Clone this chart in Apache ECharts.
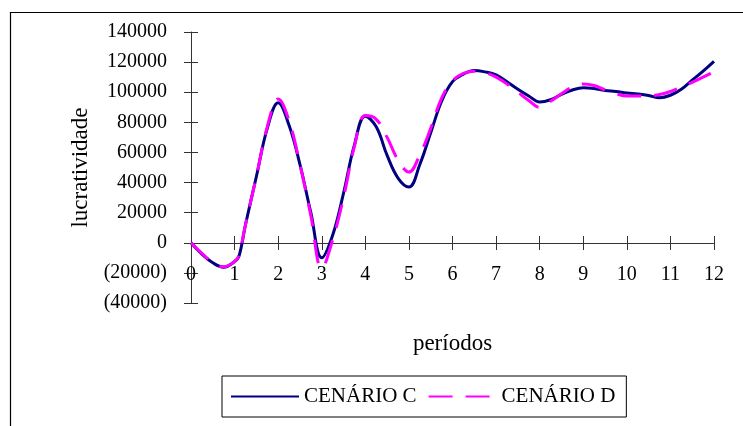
<!DOCTYPE html>
<html>
<head>
<meta charset="utf-8">
<script src="https://cdn.jsdelivr.net/npm/echarts@6/dist/echarts.min.js"></script>
<style>
  html, body { margin: 0; padding: 0; background: #fff; }
  #chart { width: 743px; height: 426px; }
</style>
</head>
<body>
<div id="chart"></div>
<script>
// Periods (x) sampled along the curves
const periods = [0, 0.25, 0.5, 0.75, 1, 1.1, 1.25, 1.5, 1.75, 2, 2.25, 2.5, 2.75, 3,
  3.25, 3.5, 3.75, 4, 4.25, 4.5, 4.75, 5, 5.25, 5.5, 5.75, 6, 6.25, 6.5, 6.75, 7,
  7.25, 7.5, 7.75, 8, 8.25, 8.5, 8.75, 9, 9.25, 9.5, 9.75, 10, 10.25, 10.5, 10.75,
  11, 11.25, 11.5, 11.75, 12];

// Lucratividade - cenário C
const cenarioC = [0, -7500, -13300, -16200, -12500, -9000, 12000, 44000, 76000, 93000,
  78000, 52000, 20000, -10000, 5000, 33000, 65000, 84000, 77000, 58000, 43000, 37000,
  52000, 73000, 94000, 107000, 112000, 114500, 113500, 111500, 107000, 102000, 97500,
  93500, 95000, 98500, 101500, 103000, 102500, 101200, 100500, 99500, 98800, 97800,
  96300, 98000, 102000, 108000, 114000, 120500];

// Lucratividade - cenário D
const cenarioD = [0, -7000, -13000, -16000, -12500, -8000, 12000, 44000, 77000, 95500,
  81000, 52000, 18000, -17000, 2000, 30000, 64000, 84500, 82000, 70000, 55000, 47000,
  58500, 76000, 96000, 107500, 112500, 114000, 113000, 110000, 105500, 100000, 94500,
  90000, 94000, 99000, 103500, 105500, 104500, 101500, 99000, 97500, 97500, 97500,
  98500, 100500, 103500, 106500, 110000, 113500];

const seriesNames = ['CENÁRIO C', 'CENÁRIO D'];

const FONT = '"Liberation Serif", "Times New Roman", serif';
const AXIS_COLOR = '#333';
const GRID_BOX = { left: 191, right: 29, top: 32, bottom: 123 };
// the period axis sits on the zero line: 40000 of 180000 above the grid bottom (271 px tall)
const ZERO_OFFSET = -Math.round(271 * 40000 / 180000);

const pairs = (ys) => periods.map((x, i) => [x, ys[i]]);
const yFmt = (v) => (v < 0 ? '(' + Math.abs(v) + ')' : String(v));

const xRange = { type: 'value', min: 0, max: 12, interval: 1, splitLine: { show: false } };
const yRange = { type: 'value', min: -40000, max: 140000, interval: 20000, splitLine: { show: false } };
const hidden = { show: false };
const nameFont = { fontFamily: FONT, fontSize: 23, color: '#000' };
const tickFont = { fontFamily: FONT, fontSize: 20, color: '#000' };

const chart = echarts.init(document.getElementById('chart'), null, { renderer: 'canvas' });

chart.setOption({
  backgroundColor: '#fff',
  animation: false,
  textStyle: { fontFamily: FONT, color: '#000' },
  graphic: [{
    type: 'rect',
    shape: { x: 10.5, y: 12.5, width: 800, height: 500 },
    style: { fill: 'none', stroke: '#000', lineWidth: 1.2 },
    silent: true
  }],
  // grid 0: data; grid 1: axis lines, labels, names, outward ticks; grid 2: inward ticks
  grid: [Object.assign({}, GRID_BOX), Object.assign({}, GRID_BOX), Object.assign({}, GRID_BOX)],
  legend: {
    data: seriesNames,
    left: 222,
    top: 376,
    orient: 'horizontal',
    padding: [10, 11, 10, 8],
    itemGap: 11,
    itemWidth: 68,
    itemHeight: 14,
    itemStyle: { opacity: 0 },
    borderColor: '#000',
    borderWidth: 1,
    textStyle: { fontFamily: FONT, fontSize: 21, color: '#000' }
  },
  xAxis: [Object.assign({}, xRange, {
    gridIndex: 0, show: false
  }), Object.assign({}, xRange, {
    gridIndex: 1,
    position: 'bottom',
    offset: ZERO_OFFSET,
    name: 'períodos',
    nameLocation: 'middle',
    nameGap: 89,
    nameTextStyle: nameFont,
    axisLine: { show: true, onZero: false, lineStyle: { color: AXIS_COLOR, width: 1 } },
    axisTick: { show: true, length: 7, lineStyle: { color: AXIS_COLOR } },
    axisLabel: Object.assign({ margin: 22 }, tickFont)
  }), Object.assign({}, xRange, {
    gridIndex: 2,
    position: 'bottom',
    offset: ZERO_OFFSET,
    axisLine: { show: false, onZero: false },
    axisTick: { show: true, inside: true, length: 7, lineStyle: { color: AXIS_COLOR } },
    axisLabel: hidden
  })],
  yAxis: [Object.assign({}, yRange, {
    gridIndex: 0, show: false
  }), Object.assign({}, yRange, {
    gridIndex: 1,
    position: 'left',
    name: 'lucratividade',
    nameLocation: 'middle',
    nameGap: 99,
    nameTextStyle: nameFont,
    axisLine: { show: true, onZero: false, lineStyle: { color: AXIS_COLOR, width: 1 } },
    axisTick: { show: true, length: 7, lineStyle: { color: AXIS_COLOR } },
    axisLabel: Object.assign({ margin: 24, formatter: yFmt }, tickFont)
  }), Object.assign({}, yRange, {
    gridIndex: 2,
    position: 'left',
    axisLine: { show: false, onZero: false },
    axisTick: { show: true, inside: true, length: 7, lineStyle: { color: AXIS_COLOR } },
    axisLabel: hidden
  })],
  series: [{
    name: seriesNames[0],
    type: 'line',
    xAxisIndex: 0,
    yAxisIndex: 0,
    data: pairs(cenarioC),
    smooth: 0.4,
    symbol: 'none',
    lineStyle: { color: '#000080', width: 3 },
    itemStyle: { color: '#000080' },
    z: 2
  }, {
    name: seriesNames[1],
    type: 'line',
    xAxisIndex: 0,
    yAxisIndex: 0,
    data: pairs(cenarioD),
    smooth: 0.4,
    symbol: 'none',
    lineStyle: { color: '#ff00ff', width: 3, type: [24, 13] },
    itemStyle: { color: '#ff00ff' },
    z: 3
  }]
});
</script>
</body>
</html>
